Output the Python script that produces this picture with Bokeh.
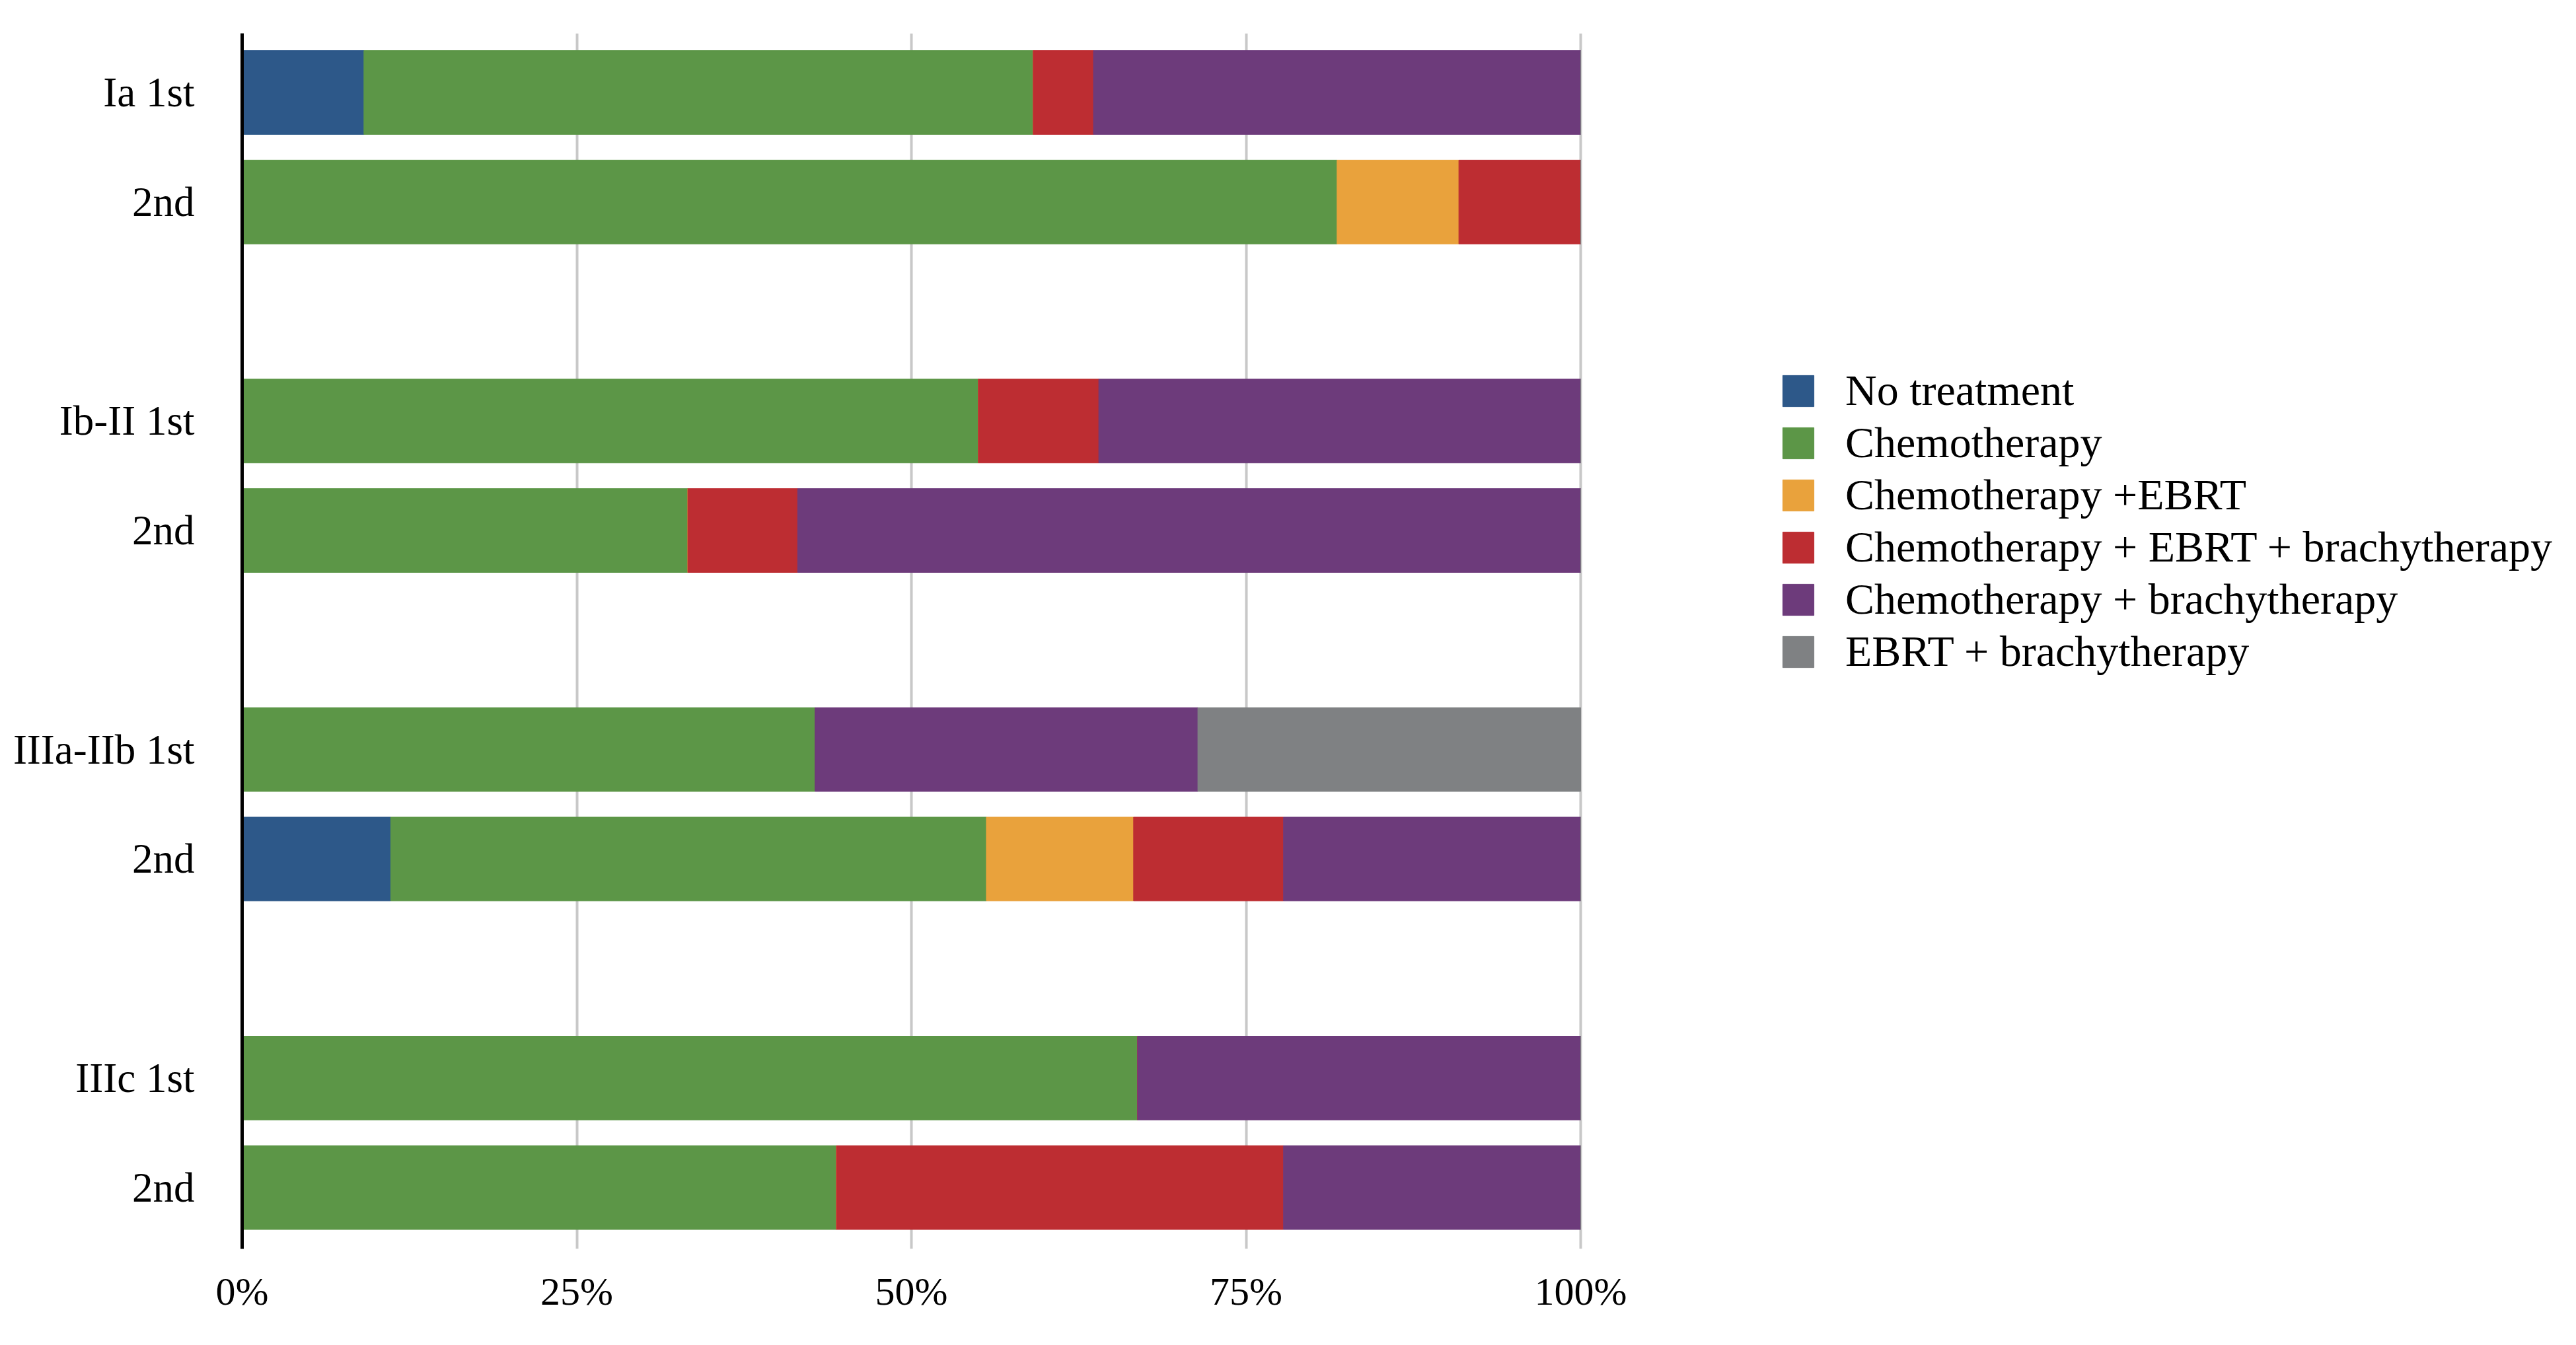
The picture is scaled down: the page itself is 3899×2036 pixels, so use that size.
from bokeh.plotting import figure
from bokeh.models import (ColumnDataSource, Range1d, FixedTicker, Legend, LegendItem)
from bokeh.embed import file_html
from bokeh.resources import INLINE

# ---- data (percent of patients) ----
row_labels = ["Ia 1st", "2nd", "Ib-II 1st", "2nd", "IIIa-IIb 1st", "2nd", "IIIc 1st", "2nd"]
series_names = ["No treatment", "Chemotherapy", "Chemotherapy +EBRT",
                "Chemotherapy + EBRT + brachytherapy", "Chemotherapy + brachytherapy",
                "EBRT + brachytherapy"]
no_treatment   = [9.1, 0.0, 0.0, 0.0, 0.0, 11.1, 0.0, 0.0]
chemo          = [50.0, 81.8, 55.0, 33.3, 42.8, 44.5, 66.9, 44.4]
chemo_ebrt     = [0.0, 9.1, 0.0, 0.0, 0.0, 11.0, 0.0, 0.0]
chemo_ebrt_bt  = [4.5, 9.1, 9.0, 8.2, 0.0, 11.2, 0.0, 33.4]
chemo_bt       = [36.4, 0.0, 36.0, 58.5, 28.6, 22.2, 33.1, 22.2]
ebrt_bt        = [0.0, 0.0, 0.0, 0.0, 28.6, 0.0, 0.0, 0.0]
x_ticks = [0, 25, 50, 75, 100]
x_tick_labels = ["0%", "25%", "50%", "75%", "100%"]

colors = ["#2D5889", "#5C9647", "#E9A23C", "#BD2D32", "#6D3B7B", "#7F8183"]

# rows in pairs, with an empty slot between stage groups
y_pos = [(i // 2) * 3 + (i % 2) for i in range(len(row_labels))]

keys = ["s0", "s1", "s2", "s3", "s4", "s5"]
src = ColumnDataSource(dict(y=y_pos, s0=no_treatment, s1=chemo, s2=chemo_ebrt,
                            s3=chemo_ebrt_bt, s4=chemo_bt, s5=ebrt_bt))

FONT = "Liberation Serif"

# plot frame is widened to the right so the legend can sit inside it;
# the 0-100 % scale occupies the left part of the frame
W, H = 3880, 2015
LEFT, RIGHT, TOP, BOTTOM = 366, 10, 50, 125
BAR_SPAN_PX = 2026
x_end = 100.0 * (W - LEFT - RIGHT) / BAR_SPAN_PX

p = figure(width=W, height=H, output_backend="svg", toolbar_location=None,
           x_range=Range1d(0, x_end), y_range=Range1d(10.56, -0.54),
           min_border_left=LEFT, min_border_right=RIGHT, min_border_top=TOP,
           min_border_bottom=BOTTOM)
p.outline_line_color = None
p.background_fill_color = "white"

renderers = p.hbar_stack(keys, y="y", height=0.765, source=src, color=colors,
                         line_width=1)

# x axis
p.xaxis.ticker = FixedTicker(ticks=x_ticks)
p.xaxis.major_label_overrides = {t: l for t, l in zip(x_ticks, x_tick_labels)}
p.xaxis.axis_line_color = None
p.xaxis.major_tick_line_color = None
p.xaxis.minor_tick_line_color = None
p.xaxis.major_label_text_font = FONT
p.xaxis.major_label_text_font_size = "60px"
p.xaxis.major_label_text_color = "black"
p.xaxis.major_label_standoff = 25

# y axis
p.yaxis.ticker = FixedTicker(ticks=y_pos)
p.yaxis.major_label_overrides = {y: l for y, l in zip(y_pos, row_labels)}
p.yaxis.axis_line_color = "black"
p.yaxis.axis_line_width = 5
p.yaxis.major_tick_line_color = None
p.yaxis.minor_tick_line_color = None
p.yaxis.major_label_text_font = FONT
p.yaxis.major_label_text_font_size = "63px"
p.yaxis.major_label_text_color = "black"
p.yaxis.major_label_standoff = 66

# grid
p.ygrid.grid_line_color = None
p.xgrid.ticker = FixedTicker(ticks=x_ticks)
p.xgrid.grid_line_color = "#C8C8C8"
p.xgrid.grid_line_width = 4

legend = Legend(items=[LegendItem(label=n, renderers=[r]) for n, r in zip(series_names, renderers)],
                location=(2326, 866))
legend.label_text_font = FONT
legend.label_text_font_size = "66px"
legend.label_text_color = "black"
legend.glyph_width = 59
legend.glyph_height = 59
legend.label_standoff = 42
legend.spacing = 3
legend.padding = 0
legend.margin = 0
legend.border_line_color = None
legend.background_fill_alpha = 0
p.add_layout(legend, "center")

open("out.html", "w").write(file_html(p, INLINE))
